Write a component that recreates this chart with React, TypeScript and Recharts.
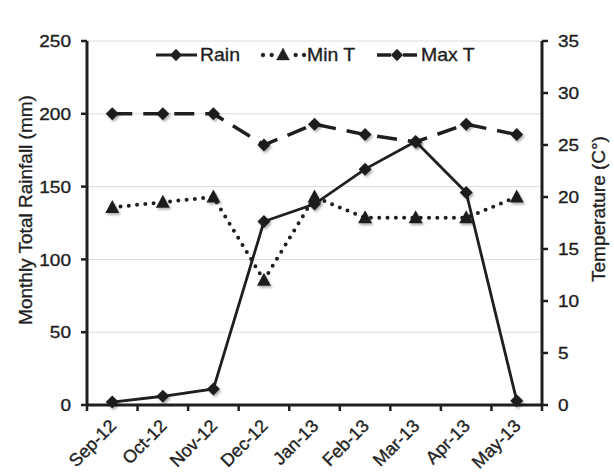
import React from "react";
import {
  LineChart,
  Line,
  XAxis,
  YAxis,
  CartesianGrid,
  Legend,
} from "recharts";

const months = ["Sep-12", "Oct-12", "Nov-12", "Dec-12", "Jan-13", "Feb-13", "Mar-13", "Apr-13", "May-13"];
const rain = [2, 6, 11, 126, 138, 162, 181, 146, 3];
const minT = [19, 19.5, 20, 12, 20, 18, 18, 18, 20];
const maxT = [28, 28, 28, 25, 27, 26, 25.3, 27, 26];
const rainTicks = [0, 50, 100, 150, 200, 250];
const tempTicks = [0, 5, 10, 15, 20, 25, 30, 35];

const data = months.map((m, i) => ({ month: m, rain: rain[i], minT: minT[i], maxT: maxT[i] }));

const W = 614;
const H = 474;
const LEFT = 87;
const RIGHT = 72;
const BAND = (W - LEFT - RIGHT) / months.length;
const FONT = '"Liberation Sans", Arial, sans-serif';
const INK = "#1f1f1f";
// the source text is a little heavier than plain regular weight
const TXT = { fontFamily: FONT, fill: INK, stroke: INK, strokeWidth: 0.35 };

const Diamond = (props: any) => {
  const { cx, cy, index } = props;
  if (cx == null || cy == null) return null;
  const s = 6.5;
  return (
    <path
      key={`dm-${index}`}
      d={`M${cx},${cy - s}L${cx + s},${cy}L${cx},${cy + s}L${cx - s},${cy}Z`}
      fill={INK}
      filter="url(#shadow)"
    />
  );
};

const Triangle = (props: any) => {
  const { cx, cy, index } = props;
  if (cx == null || cy == null) return null;
  return (
    <path
      key={`tr-${index}`}
      d={`M${cx},${cy - 7.5}L${cx + 7},${cy + 5.5}L${cx - 7},${cy + 5.5}Z`}
      fill={INK}
      filter="url(#shadow)"
    />
  );
};

// y tick labels in the source are slightly wide, so stretch them a bit
const NumTick = (props: any) => {
  const { x, y, payload, textAnchor } = props;
  return (
    <text
      transform={`translate(${x},${y}) scale(1.12,1)`}
      textAnchor={textAnchor}
      dy="0.36em"
      fontSize={17}
      {...TXT}
    >
      {payload.value}
    </text>
  );
};

const MonthTick = (props: any) => {
  const { x, y, payload, index } = props;
  const lx = x - BAND / 2;
  return (
    <g>
      <line x1={lx} y1={y} x2={lx} y2={y + 6} stroke={INK} strokeWidth={2.5} />
      {index === months.length - 1 && (
        <line x1={x + BAND / 2} y1={y} x2={x + BAND / 2} y2={y + 6} stroke={INK} strokeWidth={2.5} />
      )}
      <text
        x={0}
        y={0}
        transform={`translate(${x + 5},${y + 22}) rotate(-45)`}
        textAnchor="end"
        fontSize={18}
        {...TXT}
      >
        {payload.value}
      </text>
    </g>
  );
};

const LegendBox = () => (
  <svg width={340} height={26} style={{ display: "block", overflow: "visible" }}>
    <g fontSize={18} {...TXT}>
      <line x1={6} y1={12} x2={47} y2={12} stroke={INK} strokeWidth={3} />
      <path d="M26,6L32,12L26,18L20,12Z" fill={INK} />
      <text x={50} y={18.5} transform="translate(50 0) scale(1.08 1) translate(-50 0)">Rain</text>

      {[113, 121.7, 145.7, 154].map((cx) => (
        <circle key={cx} cx={cx} cy={12} r={2} fill={INK} />
      ))}
      <path d="M133,5L139.5,17L126.5,17Z" fill={INK} />
      <text x={157} y={18.5} transform="translate(157 0) scale(1.08 1) translate(-157 0)">Min T</text>

      <line x1={227} y1={12} x2={241} y2={12} stroke={INK} strokeWidth={3.5} />
      <line x1={253} y1={12} x2={267} y2={12} stroke={INK} strokeWidth={3.5} />
      <path d="M247,6L253,12L247,18L241,12Z" fill={INK} />
      <text x={271} y={18.5} transform="translate(271 0) scale(1.08 1) translate(-271 0)">Max T</text>
    </g>
  </svg>
);

const LeftLabel = () => (
  <text
    x={25}
    y={210}
    transform="rotate(-90 25 210)"
    textAnchor="middle"
    dominantBaseline="central"
    fontSize={19}
    {...TXT}
  >
    Monthly Total Rainfall (mm)
  </text>
);

const RightLabel = () => (
  <text
    x={598}
    y={209}
    transform="rotate(-90 598 209)"
    textAnchor="middle"
    dominantBaseline="central"
    fontSize={19}
    {...TXT}
  >
    Temperature (C°)
  </text>
);

export default function App() {
  return (
    <div style={{ position: "absolute", left: 0, top: 0, width: W, height: H, background: "#fff" }}>
      <LineChart width={W} height={H} data={data} margin={{ top: 15, right: 0, bottom: 0, left: 0 }}>
        <defs>
          <filter id="shadow" x="-50%" y="-50%" width="200%" height="200%">
            <feDropShadow dx={1.5} dy={2} stdDeviation={1.2} floodColor="#000" floodOpacity={0.3} />
          </filter>
        </defs>
        <CartesianGrid yAxisId="left" vertical={false} stroke="#dcdcdc" strokeWidth={1} />
        <XAxis
          dataKey="month"
          height={69}
          interval={0}
          padding={{ left: BAND / 2, right: BAND / 2 }}
          tickSize={0}
          tickMargin={0}
          tickLine={false}
          axisLine={{ stroke: INK, strokeWidth: 3 }}
          tick={<MonthTick />}
        />
        <YAxis
          yAxisId="left"
          width={LEFT}
          domain={[0, 250]}
          ticks={rainTicks}
          tickSize={6}
          tickMargin={10}
          tick={<NumTick />}
          axisLine={{ stroke: INK, strokeWidth: 3 }}
          tickLine={{ stroke: INK, strokeWidth: 2.5 }}
          label={<LeftLabel />}
        />
        <YAxis
          yAxisId="right"
          orientation="right"
          width={RIGHT}
          domain={[0, 35]}
          ticks={tempTicks}
          tickSize={6}
          tickMargin={10}
          tick={<NumTick />}
          axisLine={{ stroke: INK, strokeWidth: 3 }}
          tickLine={{ stroke: INK, strokeWidth: 2.5 }}
          label={<RightLabel />}
        />
        <Legend
          verticalAlign="top"
          content={<LegendBox />}
          wrapperStyle={{ position: "absolute", top: 43, left: 150, width: 340, height: 26 }}
        />
        <Line
          yAxisId="right"
          dataKey="maxT"
          name="Max T"
          stroke={INK}
          strokeWidth={3.5}
          strokeDasharray="20 11"
          dot={<Diamond />}
          activeDot={false}
          isAnimationActive={false}
        />
        <Line
          yAxisId="right"
          dataKey="minT"
          name="Min T"
          stroke={INK}
          strokeWidth={4}
          strokeDasharray="0 8.3"
          strokeLinecap="round"
          dot={<Triangle />}
          activeDot={false}
          isAnimationActive={false}
        />
        <Line
          yAxisId="left"
          dataKey="rain"
          name="Rain"
          stroke={INK}
          strokeWidth={2.8}
          dot={<Diamond />}
          activeDot={false}
          isAnimationActive={false}
        />
      </LineChart>
    </div>
  );
}
